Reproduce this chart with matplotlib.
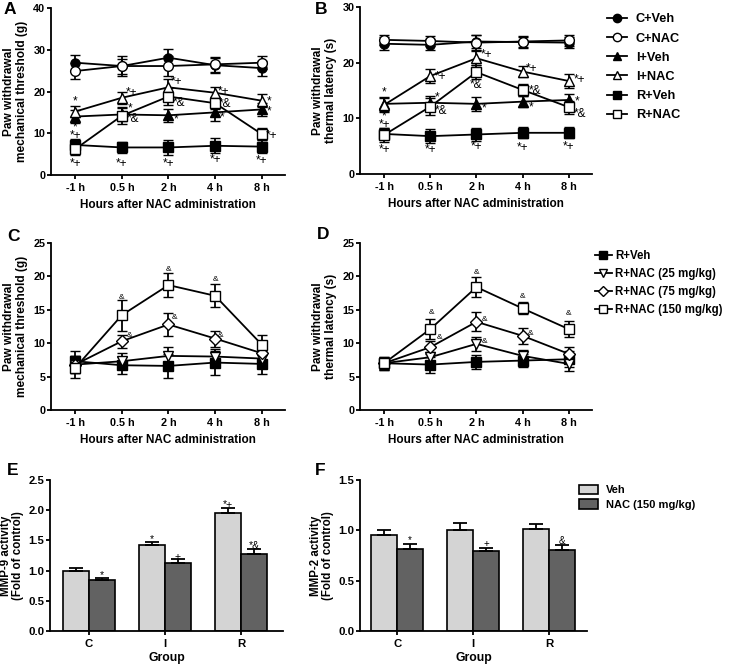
import numpy as np
import matplotlib
matplotlib.use('Agg')
import matplotlib.pyplot as plt
from matplotlib.lines import Line2D
from matplotlib.patches import Patch
from matplotlib.ticker import FormatStrFormatter

plt.rcParams['font.family'] = ['Liberation Sans', 'DejaVu Sans']
plt.rcParams['font.weight'] = 'bold'
plt.rcParams['axes.labelweight'] = 'bold'

# ---- data ----
hours = ['-1 h', '0.5 h', '2 h', '4 h', '8 h']

# panel A: mechanical threshold (g)
a_cveh = [26.9, 26.1, 28.1, 26.3, 25.6]
a_cnac = [24.9, 26.1, 26.1, 26.5, 26.9]
a_iveh = [14.0, 14.5, 14.3, 15.0, 15.7]
a_inac = [15.2, 18.5, 21.0, 19.7, 17.8]
a_rveh = [7.2, 6.6, 6.6, 7.0, 6.8]
a_rnac = [6.2, 14.2, 18.8, 17.2, 9.8]
a_cveh_err = [1.8, 1.8, 2.0, 1.8, 1.8]
a_cnac_err = [2.0, 2.3, 2.5, 1.8, 1.5]
a_iveh_err = [1.5, 1.5, 1.5, 2.0, 1.5]
a_inac_err = [1.3, 1.5, 2.0, 1.3, 1.5]
a_rveh_err = [1.5, 1.3, 1.7, 1.8, 1.5]
a_rnac_err = [1.5, 2.0, 2.0, 1.5, 1.5]

# panel B: thermal latency (s)
b_cveh = [23.4, 23.2, 23.8, 23.7, 23.6]
b_cnac = [24.1, 23.9, 23.6, 23.8, 24.0]
b_iveh = [12.6, 12.8, 12.6, 13.0, 13.3]
b_inac = [12.4, 17.6, 20.8, 18.4, 16.7]
b_rveh = [7.2, 6.8, 7.1, 7.4, 7.4]
b_rnac = [7.0, 12.1, 18.3, 15.1, 12.0]
b_cveh_err = [1.2, 1.0, 1.2, 1.0, 1.0]
b_cnac_err = [0.9, 0.9, 1.3, 1.0, 1.0]
b_iveh_err = [1.3, 1.2, 1.2, 1.0, 1.0]
b_inac_err = [1.3, 1.2, 1.3, 1.0, 1.2]
b_rveh_err = [1.0, 1.2, 1.1, 1.0, 1.0]
b_rnac_err = [1.2, 1.5, 1.3, 1.0, 1.2]

# panel C: mechanical threshold, dose response
c_rveh = [7.3, 6.7, 6.6, 7.1, 6.9]
c_r25 = [6.8, 7.3, 8.1, 8.0, 7.7]
c_r75 = [6.8, 10.3, 12.8, 10.7, 8.5]
c_r150 = [6.3, 14.2, 18.7, 17.1, 9.8]
c_rveh_err = [1.5, 1.3, 1.8, 1.8, 1.5]
c_r25_err = [1.3, 1.2, 1.3, 1.2, 1.2]
c_r75_err = [1.3, 1.0, 1.7, 1.2, 1.2]
c_r150_err = [1.5, 2.3, 1.8, 1.7, 1.5]

# panel D: thermal latency, dose response
d_rveh = [7.0, 6.8, 7.2, 7.4, 7.6]
d_r25 = [7.0, 7.9, 9.9, 8.1, 6.9]
d_r75 = [7.0, 9.4, 13.2, 11.1, 8.4]
d_r150 = [7.0, 12.1, 18.4, 15.2, 12.1]
d_rveh_err = [1.0, 1.2, 1.1, 1.0, 1.2]
d_r25_err = [0.8, 0.8, 1.0, 0.9, 1.0]
d_r75_err = [0.8, 1.0, 1.4, 1.2, 1.0]
d_r150_err = [1.0, 1.5, 1.5, 0.9, 1.2]

# panels E, F: MMP activity
groups = ['C', 'I', 'R']
e_veh = [1.00, 1.43, 1.96]
e_nac = [0.84, 1.13, 1.27]
e_veh_err = [0.04, 0.05, 0.07]
e_nac_err = [0.04, 0.06, 0.09]
f_veh = [0.955, 1.00, 1.01]
f_nac = [0.81, 0.79, 0.80]
f_veh_err = [0.045, 0.07, 0.05]
f_nac_err = [0.05, 0.03, 0.05]

# significance marks (x index, y value, text)
a_marks = [(0, 17.6, '*'), (0, 11.5, '*'), (0, 9.4, '*+'), (0, 2.6, '*+'),
           (1.21, 19.6, '*+'), (1.18, 16.0, '*'), (1.24, 13.3, '*&'), (1.0, 2.6, '*+'),
           (2.18, 22.3, '*+'), (2.22, 17.2, '*&'), (2.16, 13.4, '*'), (2.0, 2.6, '*+'),
           (3.19, 20.0, '*+'), (3.22, 17.0, '*&'), (3.16, 13.7, '*'), (3.0, 3.5, '*+'),
           (4.16, 17.6, '*'), (4.16, 15.3, '*'), (4.22, 9.4, '*+'), (4.0, 3.4, '*+')]
b_marks = [(0, 14.6, '*'), (0, 10.4, '*'), (0, 8.8, '*+'), (0, 4.3, '*+'),
           (1.23, 17.4, '*+'), (1.15, 13.7, '*'), (1.24, 11.3, '*&'), (1.0, 4.3, '*+'),
           (2.22, 21.3, '*+'), (2.0, 15.9, '*&'), (2.16, 11.7, '*'), (2.0, 4.9, '*+'),
           (3.2, 18.9, '*+'), (3.26, 15.0, '*&'), (3.19, 12.0, '*'), (3.0, 4.6, '*+'),
           (4.22, 16.8, '*+'), (4.17, 13.0, '*'), (4.23, 10.8, '*&'), (4.0, 4.8, '*+')]
c_marks = [(1.0, 16.9, '&'), (2.0, 21.1, '&'), (3.0, 19.6, '&'),
           (1.17, 11.1, '&'), (2.14, 13.9, '&'), (3.12, 11.1, '&')]
d_marks = [(1.02, 14.6, '&'), (2.01, 20.6, '&'), (3.0, 17.0, '&'), (4.0, 14.4, '&'),
           (1.2, 10.8, '&'), (2.17, 13.6, '&'), (3.16, 11.5, '&'), (2.17, 10.3, '&')]
e_marks = [(0.17, 0.92, '*'), (0.83, 1.52, '*'), (1.17, 1.23, '+'),
           (1.83, 2.08, '*+'), (2.17, 1.41, '*&')]
f_marks = [(0.17, 0.90, '*'), (1.17, 0.86, '+'), (2.17, 0.89, '&')]

W, H = 736, 666
fig = plt.figure(figsize=(W / 100, H / 100), dpi=100)


def rect(l, t, r, b):
    return [l / W, 1 - b / H, (r - l) / W, (b - t) / H]


def style_axes(ax, fs):
    for s in ['top', 'right']:
        ax.spines[s].set_visible(False)
    for s in ['left', 'bottom']:
        ax.spines[s].set_linewidth(1.3)
    ax.tick_params(width=1.3, length=3, labelsize=fs, direction='out')
    ax.tick_params(axis='x', pad=3)
    ax.tick_params(axis='y', pad=1)
    for lab in ax.get_xticklabels() + ax.get_yticklabels():
        lab.set_fontweight('bold')


def line_panel(ax, series, ylim, yticks, ylabel):
    x = np.arange(len(hours))
    for vals, errs, mk, fill, ms in series:
        ax.errorbar(x, vals, yerr=errs, color='black', lw=1.3, elinewidth=1.3,
                    capsize=3.5, capthick=1.3, marker=mk, ms=ms,
                    mfc=fill, mec='black', mew=1.0, zorder=3)
    ax.set_xlim(-0.52, 4.5)
    ax.set_ylim(*ylim)
    ax.set_yticks(yticks)
    ax.set_xticks(x)
    ax.set_xticklabels(hours)
    ax.set_ylabel(ylabel, fontsize=8.6, fontweight='bold', labelpad=4, linespacing=1.1)
    ax.set_xlabel('Hours after NAC administration', fontsize=8.5, fontweight='bold', labelpad=4)
    style_axes(ax, 7.8)


def add_marks(ax, marks, fs):
    for mx, my, t in marks:
        ax.text(mx, my, t, ha='center', va='center', fontsize=fs, fontweight='normal', zorder=5)


# ---- A ----
axA = fig.add_axes(rect(51, 8, 285, 175))
line_panel(axA, [(a_cveh, a_cveh_err, 'o', 'black', 6.5),
                 (a_cnac, a_cnac_err, 'o', 'white', 7),
                 (a_iveh, a_iveh_err, '^', 'black', 6.5),
                 (a_inac, a_inac_err, '^', 'white', 7),
                 (a_rveh, a_rveh_err, 's', 'black', 6.5),
                 (a_rnac, a_rnac_err, 's', 'white', 7)],
           (0, 40), [0, 10, 20, 30, 40], 'Paw withdrawal\nmechanical threshold (g)')
add_marks(axA, a_marks, 8.5)

# ---- B ----
axB = fig.add_axes(rect(360, 7, 592, 174))
line_panel(axB, [(b_cveh, b_cveh_err, 'o', 'black', 6.5),
                 (b_cnac, b_cnac_err, 'o', 'white', 7),
                 (b_iveh, b_iveh_err, '^', 'black', 6.5),
                 (b_inac, b_inac_err, '^', 'white', 7),
                 (b_rveh, b_rveh_err, 's', 'black', 6.5),
                 (b_rnac, b_rnac_err, 's', 'white', 7)],
           (0, 30), [0, 10, 20, 30], 'Paw withdrawal\nthermal latency (s)')
add_marks(axB, b_marks, 8.5)

# ---- C ----
axC = fig.add_axes(rect(51, 243, 285, 410))
line_panel(axC, [(c_rveh, c_rveh_err, 's', 'black', 6.5),
                 (c_r25, c_r25_err, 'v', 'white', 7),
                 (c_r75, c_r75_err, 'D', 'white', 6),
                 (c_r150, c_r150_err, 's', 'white', 7)],
           (0, 25), [0, 5, 10, 15, 20, 25], 'Paw withdrawal\nmechanical threshold (g)')
add_marks(axC, c_marks, 6)

# ---- D ----
axD = fig.add_axes(rect(360, 243, 592, 410))
line_panel(axD, [(d_rveh, d_rveh_err, 's', 'black', 6.5),
                 (d_r25, d_r25_err, 'v', 'white', 7),
                 (d_r75, d_r75_err, 'D', 'white', 6),
                 (d_r150, d_r150_err, 's', 'white', 7)],
           (0, 25), [0, 5, 10, 15, 20, 25], 'Paw withdrawal\nthermal latency (s)')
add_marks(axD, d_marks, 6)


# ---- E, F ----
def bar_panel(ax, veh, veh_err, nac, nac_err, ylim, yticks, ylabel, xlim):
    x = np.arange(len(groups))
    w = 0.34
    ax.bar(x - w / 2, veh, w, yerr=[np.zeros(3), veh_err], color='#d4d4d4',
           edgecolor='black', lw=1.2, capsize=5, error_kw=dict(lw=1.3, capthick=1.3))
    ax.bar(x + w / 2, nac, w, yerr=[np.zeros(3), nac_err], color='#626262',
           edgecolor='black', lw=1.2, capsize=5, error_kw=dict(lw=1.3, capthick=1.3))
    ax.set_xlim(*xlim)
    ax.set_ylim(*ylim)
    ax.set_yticks(yticks)
    ax.yaxis.set_major_formatter(FormatStrFormatter('%.1f'))
    ax.set_xticks(x)
    ax.set_xticklabels(groups)
    ax.set_ylabel(ylabel, fontsize=8.3, fontweight='bold', labelpad=3, linespacing=1.05)
    ax.set_xlabel('Group', fontsize=8.8, fontweight='bold', labelpad=2)
    style_axes(ax, 8.2)


axE = fig.add_axes(rect(50, 480, 283, 631))
bar_panel(axE, e_veh, e_veh_err, e_nac, e_nac_err, (0, 2.5),
          [0, 0.5, 1.0, 1.5, 2.0, 2.5], 'MMP-9 activity\n(Fold of control)', (-0.51, 2.55))
add_marks(axE, e_marks, 7.5)

axF = fig.add_axes(rect(360, 480, 587, 631))
bar_panel(axF, f_veh, f_veh_err, f_nac, f_nac_err, (0, 1.5),
          [0, 0.5, 1.0, 1.5], 'MMP-2 activity\n(Fold of control)', (-0.49, 2.5))
add_marks(axF, f_marks, 7)

for ax in [axE, axF]:
    for lab in ax.get_yticklabels():
        lab.set_fontweight('bold')

# ---- legends ----
ab_handles = [Line2D([], [], color='black', lw=1.3, marker=m, mfc=f, mec='black', ms=6)
              for m, f in [('o', 'black'), ('o', 'white'), ('^', 'black'),
                           ('^', 'white'), ('s', 'black'), ('s', 'white')]]
ab_labels = ['C+Veh', 'C+NAC', 'I+Veh', 'I+NAC', 'R+Veh', 'R+NAC']
fig.legend(ab_handles, ab_labels, loc='upper left', bbox_to_anchor=(595 / W, 1 - 2 / H),
           frameon=False, handlelength=1.6, handletextpad=0.7, labelspacing=0.56,
           prop=dict(size=9.2, weight='bold'))

cd_handles = [Line2D([], [], color='black', lw=1.3, marker=m, mfc=f, mec='black', ms=5.5)
              for m, f in [('s', 'black'), ('v', 'white'), ('D', 'white'), ('s', 'white')]]
cd_labels = ['R+Veh', 'R+NAC (25 mg/kg)', 'R+NAC (75 mg/kg)', 'R+NAC (150 mg/kg)']
fig.legend(cd_handles, cd_labels, loc='upper left', bbox_to_anchor=(585 / W, 1 - 240 / H),
           frameon=False, handlelength=1.4, handletextpad=0.3, labelspacing=0.5,
           prop=dict(size=8.3, weight='bold'))

ef_handles = [Patch(facecolor='#d4d4d4', edgecolor='black', lw=1.2),
              Patch(facecolor='#626262', edgecolor='black', lw=1.2)]
fig.legend(ef_handles, ['Veh', 'NAC (150 mg/kg)'], loc='upper left',
           bbox_to_anchor=(569 / W, 1 - 475 / H), frameon=False, handlelength=1.7,
           handleheight=0.9, handletextpad=0.7, labelspacing=0.35,
           prop=dict(size=8, weight='bold'))

# ---- panel letters ----
for letter, px, py in [('A', 4, 14), ('B', 315, 14), ('C', 7, 241),
                       ('D', 317, 239), ('E', 7, 475), ('F', 315, 475)]:
    fig.text(px / W, 1 - py / H, letter, fontsize=12.5, fontweight='bold', va='baseline')

fig.savefig('out.png', dpi=100)
